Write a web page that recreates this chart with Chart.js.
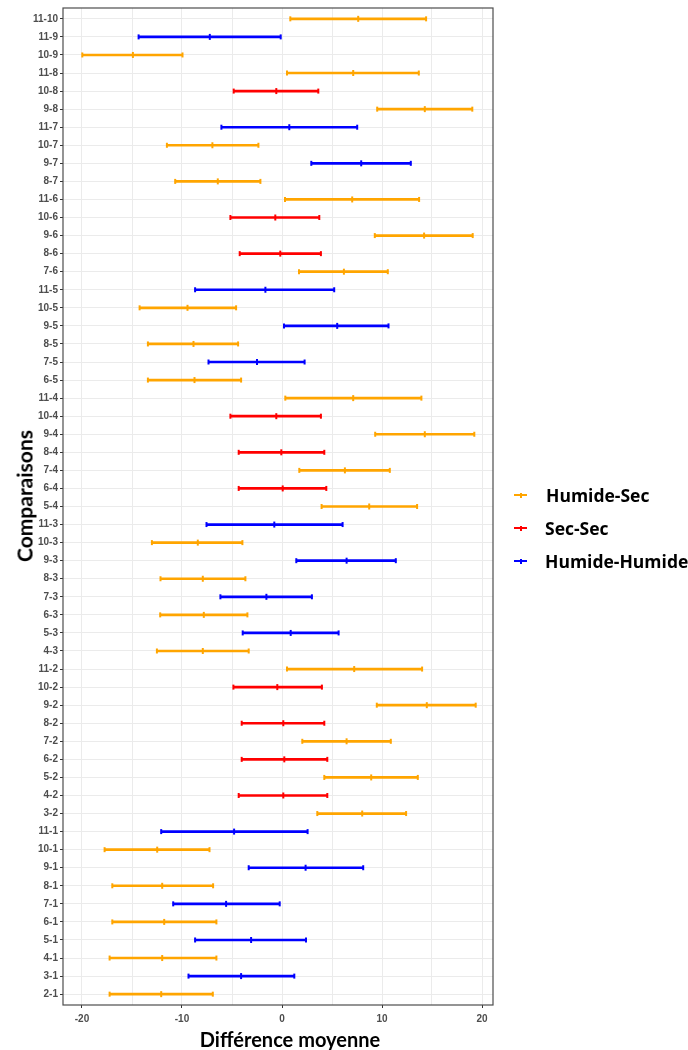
<!DOCTYPE html>
<html>
<head>
<meta charset="utf-8">
<script src="https://cdn.jsdelivr.net/npm/chart.js@4.4.1/dist/chart.umd.min.js"></script>
<style>
  html, body { margin: 0; padding: 0; background: #fff; overflow: hidden; }
  #wrap { position: relative; width: 688px; height: 1050px; overflow: hidden; }
  canvas { position: absolute; left: 0; top: 0; }
  .leg { position: absolute; left: 512px; height: 24px; font-family: "Open Sans", "Liberation Sans", sans-serif; font-weight: bold; font-size: 17.5px; color: #000; white-space: nowrap; }
  .leg .mk { position: absolute; left: 2px; top: 11px; width: 13px; height: 2px; }
  .leg .tk { position: absolute; left: 7.5px; top: 9.5px; width: 2px; height: 5px; }
  .leg .tx { position: absolute; top: 0; line-height: 24px; }
  .ttl { position: absolute; font-family: Lato, "Open Sans", "Liberation Sans", sans-serif; font-weight: bold; color: #000; white-space: nowrap; }
  #xt { left: 290px; top: 1029px; font-size: 20px; line-height: 20px; transform: translateX(-50%); }
  #yt { left: 24px; top: 495.5px; font-size: 21px; line-height: 21px; transform: translate(-50%, -50%) rotate(-90deg); }
</style>
</head>
<body>
<div id="wrap">
  <canvas id="c" width="688" height="1050"></canvas>
  <div class="ttl" id="xt">Différence moyenne</div>
  <div class="ttl" id="yt">Comparaisons</div>
</div>
<script>
// ---- data (top to bottom as in the figure) ----
const comparisons = ["11-10","11-9","10-9","11-8","10-8","9-8","11-7","10-7","9-7","8-7",
  "11-6","10-6","9-6","8-6","7-6","11-5","10-5","9-5","8-5","7-5","6-5",
  "11-4","10-4","9-4","8-4","7-4","6-4","5-4",
  "11-3","10-3","9-3","8-3","7-3","6-3","5-3","4-3",
  "11-2","10-2","9-2","8-2","7-2","6-2","5-2","4-2","3-2",
  "11-1","10-1","9-1","8-1","7-1","6-1","5-1","4-1","3-1","2-1"];

const groups = ["HS","HH","HS","HS","SS","HS","HH","HS","HH","HS",
  "HS","SS","HS","SS","HS","HH","HS","HH","HS","HH","HS",
  "HS","SS","HS","SS","HS","SS","HS",
  "HH","HS","HH","HS","HH","HS","HH","HS",
  "HS","SS","HS","SS","HS","SS","HS","SS","HS",
  "HH","HS","HH","HS","HH","HS","HH","HS","HH","HS"];

const means = [7.62,-7.22,-14.91,7.12,-0.57,14.28,0.73,-6.96,7.92,-6.42,
  7.02,-0.67,14.21,-0.17,6.19,-1.66,-9.45,5.52,-8.85,-2.50,-8.75,
  7.12,-0.57,14.28,-0.07,6.29,0.07,8.72,
  -0.77,-8.42,6.46,-7.92,-1.56,-7.82,0.87,-7.92,
  7.22,-0.47,14.48,0.13,6.46,0.23,8.92,0.13,8.02,
  -4.79,-12.48,2.36,-11.98,-5.59,-11.78,-3.09,-11.98,-4.09,-12.08];

const lowers = [0.83,-14.34,-19.97,0.50,-4.83,9.52,-6.06,-11.51,2.93,-10.68,
  0.30,-5.16,9.28,-4.23,1.70,-8.69,-14.24,0.20,-13.41,-7.35,-13.41,
  0.33,-5.16,9.32,-4.33,1.73,-4.33,3.96,
  -7.55,-13.01,1.43,-12.15,-6.16,-12.18,-3.93,-12.51,
  0.50,-4.86,9.48,-4.03,2.03,-4.03,4.23,-4.33,3.53,
  -12.08,-17.74,-3.33,-16.97,-10.88,-16.97,-8.69,-17.24,-9.35,-17.24];

const uppers = [14.41,-0.13,-9.95,13.68,3.63,19.03,7.52,-2.36,12.88,-2.16,
  13.71,3.73,19.07,3.89,10.58,5.22,-4.59,10.65,-4.39,2.26,-4.09,
  13.94,3.89,19.23,4.23,10.78,4.43,13.51,
  6.06,-3.96,11.38,-3.66,2.99,-3.46,5.66,-3.33,
  14.01,3.99,19.37,4.23,10.88,4.53,13.58,4.53,12.41,
  2.56,-7.25,8.12,-6.89,-0.23,-6.56,2.40,-6.56,1.23,-6.92];

const groupKeys = ["HS","SS","HH"];
const groupNames = ["Humide-Sec","Sec-Sec","Humide-Humide"];
const groupColors = ["#FFA500","#FF0000","#0000FF"];
const xTicks = [-20,-15,-10,-5,0,5,10,15,20];

// ---- datasets (row index i maps to comparisons[i]) ----
const datasets = [];
groupKeys.forEach((g, gi) => {
  const col = groupColors[gi];
  const bars = [], caps = [], mids = [];
  comparisons.forEach((c, i) => {
    if (groups[i] !== g) return;
    bars.push({ x: [lowers[i], uppers[i]], y: i });
    caps.push({ x: lowers[i], y: i });
    caps.push({ x: uppers[i], y: i });
    mids.push({ x: means[i], y: i });
  });
  datasets.push({
    type: 'bar', label: groupNames[gi], data: bars,
    backgroundColor: col, borderWidth: 0,
    barThickness: 2, maxBarThickness: 2, grouped: false, order: 2
  });
  datasets.push({
    type: 'scatter', label: groupNames[gi] + ' bornes', data: caps,
    pointStyle: 'line', rotation: 90, radius: 2.5, borderWidth: 2,
    borderColor: col, backgroundColor: col, order: 1
  });
  datasets.push({
    type: 'scatter', label: groupNames[gi] + ' moyenne', data: mids,
    pointStyle: 'line', rotation: 90, radius: 3, borderWidth: 2,
    borderColor: col, backgroundColor: col, order: 1
  });
});

const panelBorder = {
  id: 'panelBorder',
  afterDatasetsDraw(chart) {
    const a = chart.chartArea, ctx = chart.ctx;
    ctx.save();
    ctx.strokeStyle = '#4d4d4d';
    ctx.lineWidth = 1.2;
    ctx.strokeRect(a.left, a.top, a.right - a.left, a.bottom - a.top);
    ctx.restore();
  }
};

const tickFont = { family: "'Liberation Sans', Arial, sans-serif", weight: 'bold', size: 10 };

new Chart(document.getElementById('c'), {
  type: 'bar',
  data: { datasets },
  options: {
    indexAxis: 'y',
    responsive: false,
    animation: false,
    devicePixelRatio: 1,
    layout: { padding: { top: 7, right: 195, left: 0, bottom: 0 } },
    plugins: { legend: { display: false }, tooltip: { enabled: false } },
    scales: {
      x: {
        type: 'linear',
        min: -21.9,
        max: 21.1,
        offset: false,
        afterBuildTicks: s => { s.ticks = xTicks.map(v => ({ value: v })); },
        afterFit: s => { s.height = 45; },
        ticks: {
          autoSkip: false, maxRotation: 0,
          callback: v => (v % 10 === 0 ? String(v) : ''),
          font: tickFont, color: '#4D4D4D', padding: 5
        },
        grid: {
          offset: false,
          color: '#EBEBEB', lineWidth: 1, drawTicks: true, tickLength: 3,
          tickColor: ctx => (ctx.tick && ctx.tick.value % 10 === 0 ? '#333333' : 'rgba(0,0,0,0)')
        },
        border: { display: false },
        title: { display: false }
      },
      y: {
        type: 'linear',
        reverse: true,
        offset: false,
        min: -0.6,
        max: comparisons.length - 1 + 0.6,
        afterBuildTicks: s => { s.ticks = comparisons.map((c, i) => ({ value: i })); },
        afterFit: s => { s.width = 63; },
        ticks: {
          autoSkip: false,
          callback: v => comparisons[v],
          font: tickFont, color: '#4D4D4D', padding: 2
        },
        grid: { offset: false, color: '#EBEBEB', lineWidth: 1, drawTicks: true, tickLength: 3, tickColor: '#333333' },
        border: { display: false },
        title: { display: false }
      }
    }
  },
  plugins: [panelBorder]
});

// ---- HTML legend ----
const wrap = document.getElementById('wrap');
const legY = [495, 528, 561];
groupNames.forEach((name, i) => {
  const d = document.createElement('div');
  d.className = 'leg';
  d.style.top = (legY[i] - 12) + 'px';
  d.innerHTML = '<div class="mk" style="background:' + groupColors[i] + '"></div>' +
                '<div class="tk" style="background:' + groupColors[i] + '"></div>' +
                '<div class="tx" style="left:' + (i === 0 ? 34 : 33) + 'px">' + name + '</div>';
  wrap.appendChild(d);
});
</script>
</body>
</html>
